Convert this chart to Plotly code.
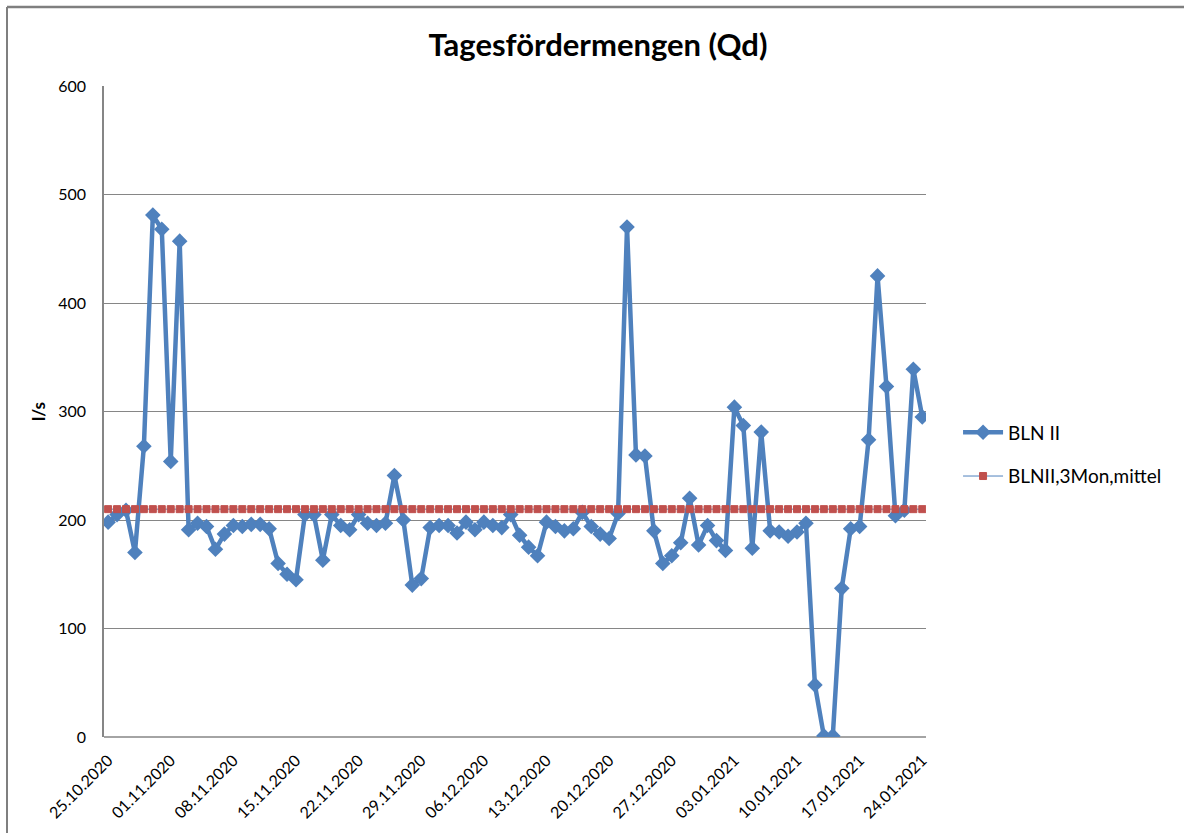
import pandas as pd
import plotly.graph_objects as go

# Daily dates 25.10.2020 .. 24.01.2021
dates = pd.date_range("2020-10-25", "2021-01-24", freq="D")

# BLN II daily flow (l/s)
bln_ii = [
    198, 205, 209, 170, 268, 481, 468, 254, 457, 191,
    197, 194, 173, 187, 195, 194, 196, 196, 192, 160,
    150, 145, 205, 205, 163, 205, 195, 191, 205, 197,
    195, 197, 241, 200, 140, 146, 193, 195, 195, 188,
    198, 191, 198, 195, 193, 205, 186, 175, 167, 198,
    194, 190, 192, 207, 194, 187, 183, 206, 470, 260,
    259, 190, 160, 167, 179, 220, 177, 195, 181, 172,
    304, 287, 174, 281, 190, 189, 185, 189, 197, 48,
    1, 1, 137, 192, 194, 274, 425, 323, 204, 209,
    339, 295,
]

# 3-month mean (l/s)
mean_value = 210
bln_ii_mean = [mean_value] * len(dates)

tick_dates = pd.date_range("2020-10-25", "2021-01-24", freq="7D")
tick_text = [d.strftime("%d.%m.%Y") for d in tick_dates]
y_ticks = [0, 100, 200, 300, 400, 500, 600]

FONT = "Lato, 'Open Sans', sans-serif"
GRID = "#868686"

fig = go.Figure()
fig.add_trace(go.Scatter(
    x=dates, y=bln_ii, name="BLN II", mode="lines+markers",
    line=dict(color="#4F81BD", width=4.5),
    marker=dict(symbol="diamond", size=12, color="#4F81BD"),
    legendgroup="a",
))
fig.add_trace(go.Scatter(
    x=dates, y=bln_ii_mean, name="BLNII,3Mon,mittel", mode="lines+markers",
    line=dict(color="#4F81BD", width=1),
    marker=dict(symbol="square", size=7, color="#C0504D",
                line=dict(color="#C0504D", width=1)),
    legendgroup="b",
))

x_start = pd.Timestamp("2020-10-24 13:00")
x_end = pd.Timestamp("2021-01-24 10:00")

fig.update_layout(
    width=1184, height=833,
    paper_bgcolor="white", plot_bgcolor="white",
    margin=dict(l=104, r=258, t=86, b=96, autoexpand=False),
    font=dict(family=FONT, size=16, color="#000000"),
    title=dict(text="<b>Tagesfördermengen (Qd)</b>", x=0.505, xanchor="center",
               y=0.946, yanchor="middle",
               font=dict(family=FONT, size=31, color="#000000")),
    xaxis=dict(
        range=[x_start, x_end], tickmode="array",
        tickvals=tick_dates, ticktext=tick_text, tickangle=-45,
        showgrid=False, showline=False, zeroline=False, ticks="",
        ticklabelstandoff=10, automargin=False,
        tickfont=dict(size=16),
    ),
    yaxis=dict(
        range=[0, 600], tickmode="array", tickvals=y_ticks,
        showgrid=True, gridcolor=GRID, gridwidth=1,
        showline=True, linecolor=GRID, linewidth=1.5,
        zeroline=False, ticks="", ticklabelstandoff=13, automargin=False,
        tickfont=dict(size=16),
        title=dict(text="<b>l/s</b>", font=dict(size=17), standoff=8),
    ),
    legend=dict(x=1.039, y=0.434, xanchor="left", yanchor="middle",
                font=dict(size=19), tracegroupgap=16,
                bgcolor="rgba(0,0,0,0)", itemwidth=40),
    showlegend=True,
)

# bottom axis line (0 gridline)
fig.add_shape(type="line", xref="paper", yref="paper", x0=0, x1=1, y0=0, y1=0,
              line=dict(color=GRID, width=1.5), layer="below")

# chart-area border (top and left visible)
bx0 = (7 - 104) / 822
by1 = (737 - 7) / 651
fig.add_shape(type="line", xref="paper", yref="paper",
              x0=bx0, x1=(1220 - 104) / 822, y0=by1, y1=by1,
              line=dict(color="#7F7F7F", width=2.5), layer="above")
fig.add_shape(type="line", xref="paper", yref="paper",
              x0=bx0, x1=bx0, y0=(737 - 860) / 651, y1=by1,
              line=dict(color="#7F7F7F", width=2), layer="above")

fig.write_html("out.html", config={"displayModeBar": False},
               post_script="document.body.style.margin='0';document.body.style.overflow='hidden';")
